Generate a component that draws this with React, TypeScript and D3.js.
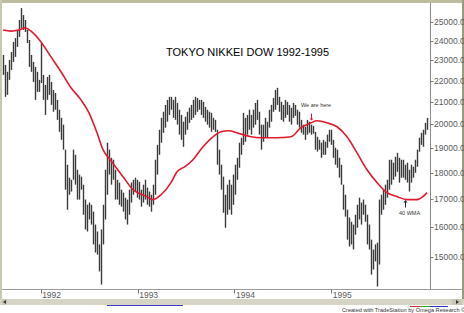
import React from "react";
import * as d3 from "d3";

const title = "TOKYO NIKKEI DOW 1992-1995";
const yearLabels = ["1992", "1993", "1994", "1995"];
const yearDates = [new Date(1992, 0, 1), new Date(1993, 0, 1), new Date(1994, 0, 1), new Date(1995, 0, 1)];
const priceTicks = [15000, 16000, 17000, 18000, 19000, 20000, 21000, 22000, 23000, 24000, 25000];

// weekly bar highs / lows (yen)
const highs = [
  23270, 22770, 22430, 23020, 23420, 23940, 24140, 24570, 25110, 25770,
  25380, 25110, 24570, 24040, 23270, 22920, 22670, 22430, 22040, 23880,
  22280, 21800, 22180, 22280, 21940, 21560, 21420, 21100, 20650, 20290,
  19990, 18930, 18320, 17810, 17730, 18930, 18720, 18120, 17930, 17850,
  17540, 16980, 16790, 16870, 16790, 16540, 16080, 15840, 15400, 15910,
  16790, 18120, 19220, 18930, 18600, 18520, 18120, 17730, 17620, 17350,
  17240, 17050, 16980, 17350, 17620, 17730, 17810, 17730, 17650, 17350,
  17540, 17730, 17430, 17280, 17160, 17540, 18520, 19130, 19770, 20290,
  20560, 20870, 21100, 21240, 21240, 21100, 21240, 20960, 20650, 20420,
  20120, 20340, 20560, 20740, 20870, 21100, 21240, 21190, 21100, 21100,
  21010, 20780, 20650, 20560, 20510, 20290, 20200, 19770, 18930, 18320,
  17850, 17160, 17540, 17730, 17540, 17930, 18320, 18600, 19220, 19430,
  20510, 20290, 20420, 20650, 20420, 20650, 20960, 21100, 20560, 19990,
  19990, 20290, 20120, 20650, 20870, 21190, 21560, 21660, 21240, 21010,
  20870, 21100, 21010, 20870, 20740, 20960, 20870, 20650, 20560, 20200,
  19990, 19900, 20200, 20120, 19990, 19940, 19680, 19470, 19340, 19220,
  19340, 19260, 19560, 19770, 19770, 19340, 19010, 18930, 18600, 18320,
  17540, 17160, 16610, 16330, 16180, 16080, 16430, 16790, 17050, 16870,
  16980, 16790, 16430, 16080, 15560, 15230, 15400, 15460, 16980, 17160,
  17350, 17540, 17730, 18520, 18520, 18400, 18640, 18800, 18600, 18520,
  18520, 18320, 18400, 18120, 18320, 18240, 18520, 18930, 19430, 19640,
  19770, 20070, 20290,
];
const lows = [
  22280, 21240, 21330, 22040, 22520, 22920, 23170, 23680, 24200, 24680,
  24570, 24460, 23880, 22670, 22430, 21940, 21100, 21470, 21470, 21890,
  21100, 20420, 21100, 21330, 20870, 20560, 20650, 20200, 19680, 19340,
  18930, 17350, 16610, 17160, 17280, 17730, 17540, 16980, 16980, 17350,
  16430, 15910, 15840, 16260, 16080, 15400, 15130, 15060, 14520, 14110,
  15400, 16260, 17160, 17930, 17540, 17730, 16980, 16980, 16790, 16720,
  16540, 16260, 16080, 16430, 16870, 17160, 17280, 17050, 16980, 16720,
  16870, 16980, 16790, 16720, 16540, 16790, 17160, 17930, 18720, 19220,
  19640, 19860, 20120, 20420, 20650, 20290, 20200, 19990, 19560, 19340,
  19050, 19560, 19770, 20070, 20200, 20290, 20420, 20560, 20650, 20420,
  20290, 20120, 19990, 19860, 19680, 19770, 19680, 18320, 17930, 17350,
  16500, 15970, 16430, 16610, 16430, 16790, 17160, 17730, 18200, 18720,
  19130, 19260, 19560, 19770, 19560, 19860, 19990, 20200, 19560, 18930,
  19260, 19430, 19430, 19860, 20120, 20560, 20650, 20870, 20560, 20200,
  20120, 20290, 20420, 20120, 19990, 20290, 20380, 19990, 19860, 19640,
  19560, 19340, 19560, 19640, 19560, 19600, 18930, 18850, 18930, 18600,
  18720, 18720, 19010, 19260, 19130, 18600, 18320, 18200, 17810, 17540,
  16610, 16360, 15560, 15330, 15400, 15230, 15730, 15970, 16260, 16080,
  16430, 16180, 15400, 15230, 14420, 14580, 14840, 14050, 14740, 16430,
  16610, 16790, 17050, 17350, 17540, 17730, 17850, 18040, 17620, 17810,
  17810, 17730, 17620, 17280, 17620, 17810, 18000, 18240, 18850, 19130,
  19050, 19560, 19770,
];

// 40-week moving average, read at selected bars
const maBars = [0, 4, 8, 11, 14, 19, 24, 29, 34, 39, 43, 47, 50, 54, 60, 65, 72, 75, 79, 84, 87, 91, 95, 100, 105, 109, 113, 117, 124, 129, 137, 144, 149, 154, 157, 162, 167, 172, 177, 182, 187, 192, 197, 202, 207, 210, 212];
const maValues = [24570, 24510, 24570, 24680, 24510, 23940, 23170, 22430, 21660, 21100, 20510, 19640, 18930, 18480, 17850, 17350, 17090, 16980, 17160, 17620, 18040, 18240, 18520, 19050, 19470, 19680, 19730, 19640, 19470, 19430, 19430, 19470, 19860, 20070, 20160, 20070, 19900, 19470, 18800, 18120, 17620, 17240, 17090, 16980, 16980, 17090, 17240];

const W = 464;
const H = 313;

export default function App() {
  const n = highs.length;
  const x = d3.scaleLinear().domain([0, n - 1]).range([3, 427]);
  const xt = d3.scaleTime().domain([new Date(1991, 7, 12), new Date(1996, 0, 1)]).range([3, 428]);
  const y = d3.scaleLog().domain([15000, 25000]).range([256.5, 22]);
  const maLine = d3
    .line<number>()
    .x((_, i) => x(maBars[i]))
    .y((v) => y(v))
    .curve(d3.curveMonotoneX);
  const font = "Arial, 'Liberation Sans', sans-serif";
  const axisX = 430.5;
  const baseY = 289.5;

  return (
    <svg width={W} height={H} style={{ position: "absolute", left: 0, top: 0, background: "#fff" }} fontFamily={font}>
      <rect x={0} y={0} width={W} height={H} fill="#fff" />
      {/* frame */}
      <rect x={0} y={0} width={W} height={3} fill="#bcbc9e" />
      <rect x={0} y={0} width={2} height={300} fill="#c8c8ae" />
      <rect x={462} y={0} width={2} height={300} fill="#9a9a80" />
      {/* title */}
      <text x={166} y={56} fontSize={11} fill="#000">{title}</text>
      {/* bars */}
      <g stroke="#3a3a3a" strokeWidth={1.4}>
        {highs.map((h, i) => (
          <line key={i} x1={x(i) + 0.5} x2={x(i) + 0.5} y1={y(h)} y2={y(lows[i])} />
        ))}
      </g>
      {/* moving average */}
      <path d={maLine(maValues) || ""} fill="none" stroke="#e3182d" strokeWidth={1.6} />
      {/* annotations */}
      <text x={x(149)} y={y(20782)} fontSize={5.5} fill="#333">We are here</text>
      <line x1={x(154) + 0.5} x2={x(154) + 0.5} y1={y(20480)} y2={y(20200)} stroke="#e3182d" strokeWidth={1} />
      <path d={`M${x(154) - 1.5},${y(20260)} L${x(154) + 2.5},${y(20260)} L${x(154) + 0.5},${y(20170)} Z`} fill="#e3182d" />
      <text x={x(198)} y={y(16430)} fontSize={5.5} fill="#333">40 WMA</text>
      <line x1={x(201) + 0.5} x2={x(201) + 0.5} y1={y(16690)} y2={y(16920)} stroke="#222" strokeWidth={1} />
      <path d={`M${x(201) - 1.5},${y(16870)} L${x(201) + 2.5},${y(16870)} L${x(201) + 0.5},${y(16960)} Z`} fill="#222" />
      {/* right axis */}
      <line x1={axisX} x2={axisX} y1={3} y2={baseY} stroke="#8a8a8a" strokeWidth={1} />
      {priceTicks.map((p) => (
        <g key={p}>
          <line x1={axisX} x2={axisX + 3} y1={Math.round(y(p)) + 0.5} y2={Math.round(y(p)) + 0.5} stroke="#777" />
          <text x={434} y={y(p) + 3} fontSize={8.5} fill="#5a5a5a">{p.toFixed(2)}</text>
        </g>
      ))}
      {/* bottom axis */}
      <line x1={2} x2={462} y1={baseY} y2={baseY} stroke="#9a9a9a" strokeWidth={1} />
      {yearDates.map((d, i) => (
        <g key={yearLabels[i]}>
          <line x1={Math.round(xt(d)) + 0.5} x2={Math.round(xt(d)) + 0.5} y1={baseY} y2={baseY + 4} stroke="#777" />
          <text x={xt(d) + 1.5} y={297.5} fontSize={8.5} fill="#5a5a5a">{yearLabels[i]}</text>
        </g>
      ))}
      {/* scroll strip */}
      <rect x={0} y={299} width={W} height={6} fill="#d6d4c4" />
      <rect x={2} y={299} width={5} height={6} fill="#c8c6b4" />
      <path d="M3,302 L6,300 L6,304 Z" fill="#333" />
      <rect x={452} y={299} width={10} height={6} fill="#c8c6b4" />
      <path d="M459,302 L456,300 L456,304 Z" fill="#333" />
      <line x1={107} x2={183} y1={305.5} y2={305.5} stroke="#3a3ad0" strokeWidth={1} />
      <line x1={410} x2={420} y1={306.5} y2={306.5} stroke="#d03030" />
      <line x1={420} x2={430} y1={306.5} y2={306.5} stroke="#30a030" />
      <line x1={430} x2={448} y1={306.5} y2={306.5} stroke="#3030c0" />
      <text x={342} y={312} fontSize={5.6} fill="#333">Created with TradeStation by Omega Research © 1997</text>
    </svg>
  );
}
